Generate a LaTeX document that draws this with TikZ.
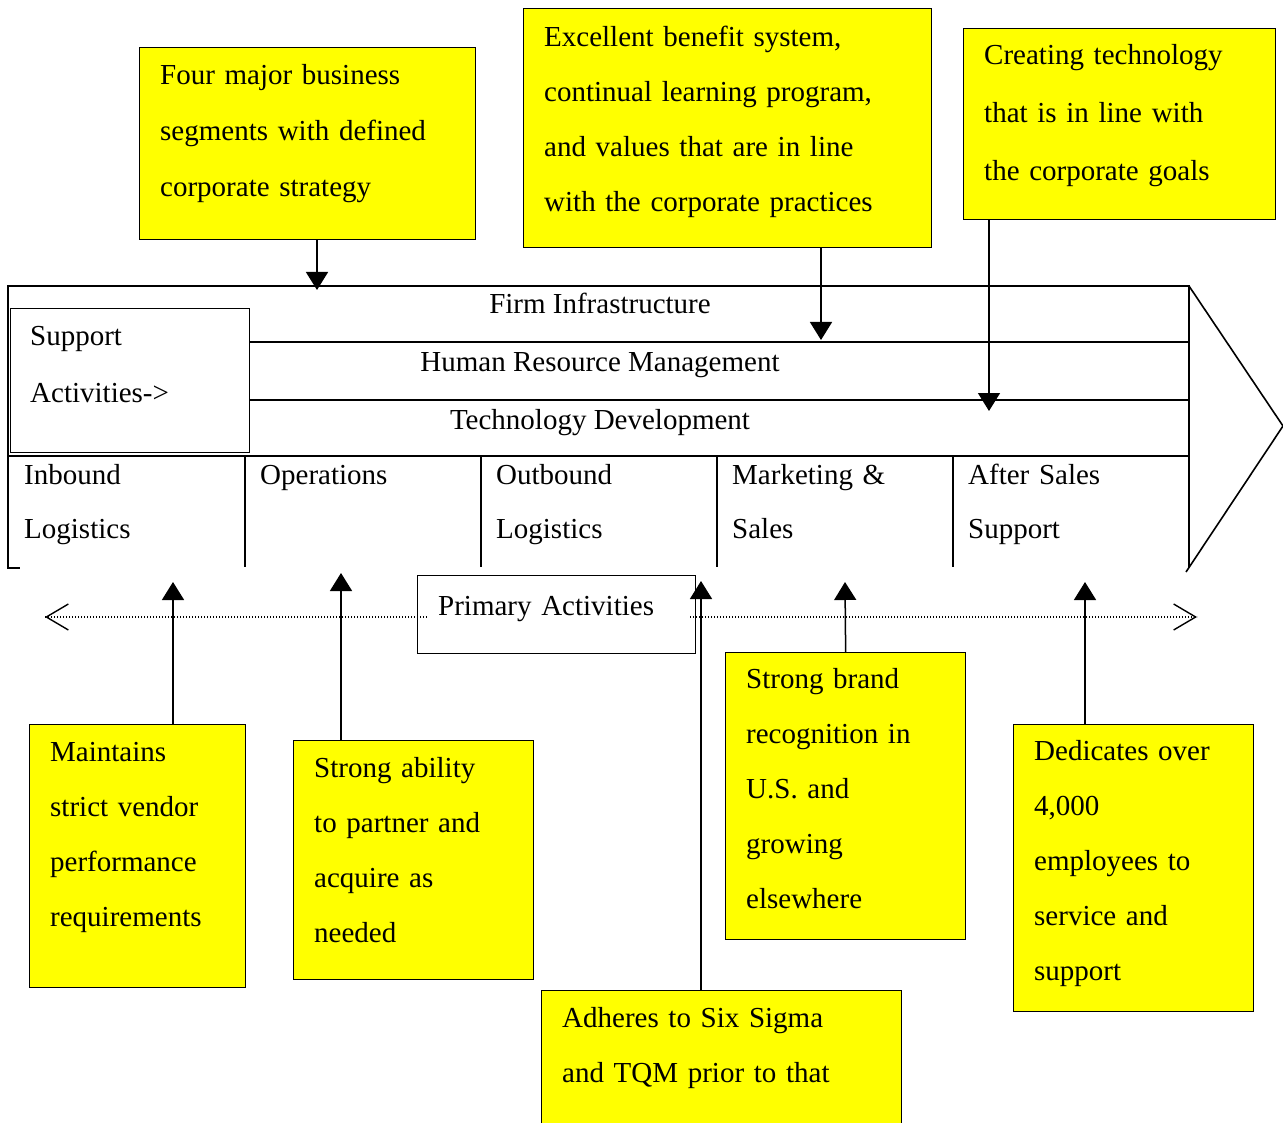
\documentclass[tikz,border=0pt]{standalone}
\usepackage{fontspec}
\setmainfont{Liberation Serif}
\usetikzlibrary{arrows.meta}
\definecolor{callout}{RGB}{255,255,0}

\begin{document}
\begin{tikzpicture}[x=1pt, y=-1pt,
  frame/.style={line width=1.8pt, line cap=rect},
  ybox/.style={draw, fill=callout, line width=1.3pt, inner sep=0pt, anchor=north west},
  wbox/.style={draw, fill=white, line width=1.3pt, inner sep=0pt, anchor=north west},
  txt/.style={inner sep=0pt, align=left, anchor=base west, text width=400pt,
              font=\fontsize{29}{55}\selectfont},
  lbl/.style={inner sep=0pt, anchor=base, font=\fontsize{29}{35}\selectfont},
  arr/.style={line width=1.5pt, -{Triangle[width=22pt,length=18pt]}},
  dots/.style={line width=1.3pt, dash pattern=on 1.3pt off 1.7pt},
  barb/.style={line width=1.4pt, -{Straight Barb[length=22pt,width=26pt]}}
]
\useasboundingbox (0,0) rectangle (1283,1123);

% ---------- value chain frame ----------
\draw[frame] (8,568) -- (8,286) -- (1189,286) -- (1189,566);
\draw[frame] (8,568) -- (19,568);
\draw[line width=1.6pt] (1189,286) -- (1283,426) -- (1186,572);
\draw[frame] (249,342) -- (1189,342);
\draw[frame] (249,400) -- (1189,400);
\draw[frame] (8,456) -- (1189,456);
\foreach \x in {245,481,717,953}
  \draw[frame] (\x,456) -- (\x,566);

\node[lbl] (fi)  at (600,314) {Firm Infrastructure};
\node[lbl] (hrm) at (600,371) {Human Resource Management};
\node[lbl] (td)  at (600,429) {Technology Development};

% support activities box
\node[wbox, minimum width=239pt, minimum height=144pt] (sup) at (10,308) {};
\node[txt, font=\fontsize{29}{58}\selectfont] (supt) at (30,345) {Support\\Activities->};

% primary activity columns
\node[txt, font=\fontsize{29}{54}\selectfont] (c1) at (24,484)  {Inbound\\Logistics};
\node[txt, font=\fontsize{29}{54}\selectfont] (c2) at (260,484) {Operations};
\node[txt, font=\fontsize{29}{54}\selectfont] (c3) at (496,484) {Outbound\\Logistics};
\node[txt, font=\fontsize{29}{54}\selectfont] (c4) at (732,484) {Marketing \&\\Sales};
\node[txt, font=\fontsize{29}{54}\selectfont] (c5) at (968,484) {After Sales\\Support};

% ---------- primary activities span ----------
\coordinate (dl) at (45,617);
\coordinate (dr) at (1197,617);
\draw[dots] (dl) -- (dr);
\draw[barb] ([xshift=2pt]dl) -- (dl);
\draw[barb] ([xshift=-2pt]dr) -- (dr);
\node[draw, line width=1.3pt, inner sep=0pt, anchor=north west,
      minimum width=278pt, minimum height=78pt] (pa) at (417,575) {};
\node[inner sep=0pt, anchor=base west, fill=white, text width=262pt,
      text depth=12pt, text height=28pt, font=\fontsize{29}{35}\selectfont] (pat) at (428,615)
      {\hspace*{10pt}Primary Activities};

% ---------- yellow call-outs ----------
\node[ybox, minimum width=336pt, minimum height=192pt] (b1) at (139,47) {};
\node[txt, font=\fontsize{29}{56}\selectfont] (t1) at ([shift={(21,38)}]b1.north west)
  {Four major business\\segments with defined\\corporate strategy};

\node[ybox, minimum width=408pt, minimum height=239pt] (b2) at (523,8) {};
\node[txt] (t2) at ([shift={(21,39)}]b2.north west)
  {Excellent benefit system,\\continual learning program,\\and values that are in line\\with the corporate practices};

\node[ybox, minimum width=312pt, minimum height=191pt] (b3) at (963,28) {};
\node[txt, font=\fontsize{29}{58}\selectfont] (t3) at ([shift={(21,37)}]b3.north west)
  {Creating technology\\that is in line with\\the corporate goals};

\node[ybox, minimum width=216pt, minimum height=263pt] (b4) at (29,724) {};
\node[txt] (t4) at ([shift={(21,37)}]b4.north west)
  {Maintains\\strict vendor\\performance\\requirements};

\node[ybox, minimum width=240pt, minimum height=239pt] (b5) at (293,740) {};
\node[txt] (t5) at ([shift={(21,37)}]b5.north west)
  {Strong ability\\to partner and\\acquire as\\needed};

\node[ybox, minimum width=360pt, minimum height=140pt] (b6) at (541,990) {};
\node[txt] (t6) at ([shift={(21,37)}]b6.north west)
  {Adheres to Six Sigma\\and TQM prior to that};

\node[ybox, minimum width=240pt, minimum height=287pt] (b7) at (725,652) {};
\node[txt] (t7) at ([shift={(21,36)}]b7.north west)
  {Strong brand\\recognition in\\U.S. and\\growing\\elsewhere};

\node[ybox, minimum width=240pt, minimum height=287pt] (b8) at (1013,724) {};
\node[txt] (t8) at ([shift={(21,36)}]b8.north west)
  {Dedicates over\\4,000\\employees to\\service and\\support};

% ---------- connectors ----------
\coordinate (a1) at (317,290);
\coordinate (a2) at (821,340);
\coordinate (a3) at (989,411);
\coordinate (a4) at (173,582);
\coordinate (a5) at (341,573);
\coordinate (a6) at (701,581);
\coordinate (a7) at (845,582);
\coordinate (a8) at (1085,582);

\draw[arr] ([xshift=178pt]b1.south west) -- (a1);
\draw[arr] ([xshift=298pt]b2.south west) -- (a2);
\draw[arr] ([xshift=26pt]b3.south west)  -- (a3);
\draw[arr] ([xshift=144pt]b4.north west) -- (a4);
\draw[arr] ([xshift=48pt]b5.north west)  -- (a5);
\draw[arr] ([xshift=160pt]b6.north west) -- (a6);
\draw[arr] (b7.north) -- (a7);
\draw[arr] ([xshift=72pt]b8.north west)  -- (a8);
\end{tikzpicture}
\end{document}
